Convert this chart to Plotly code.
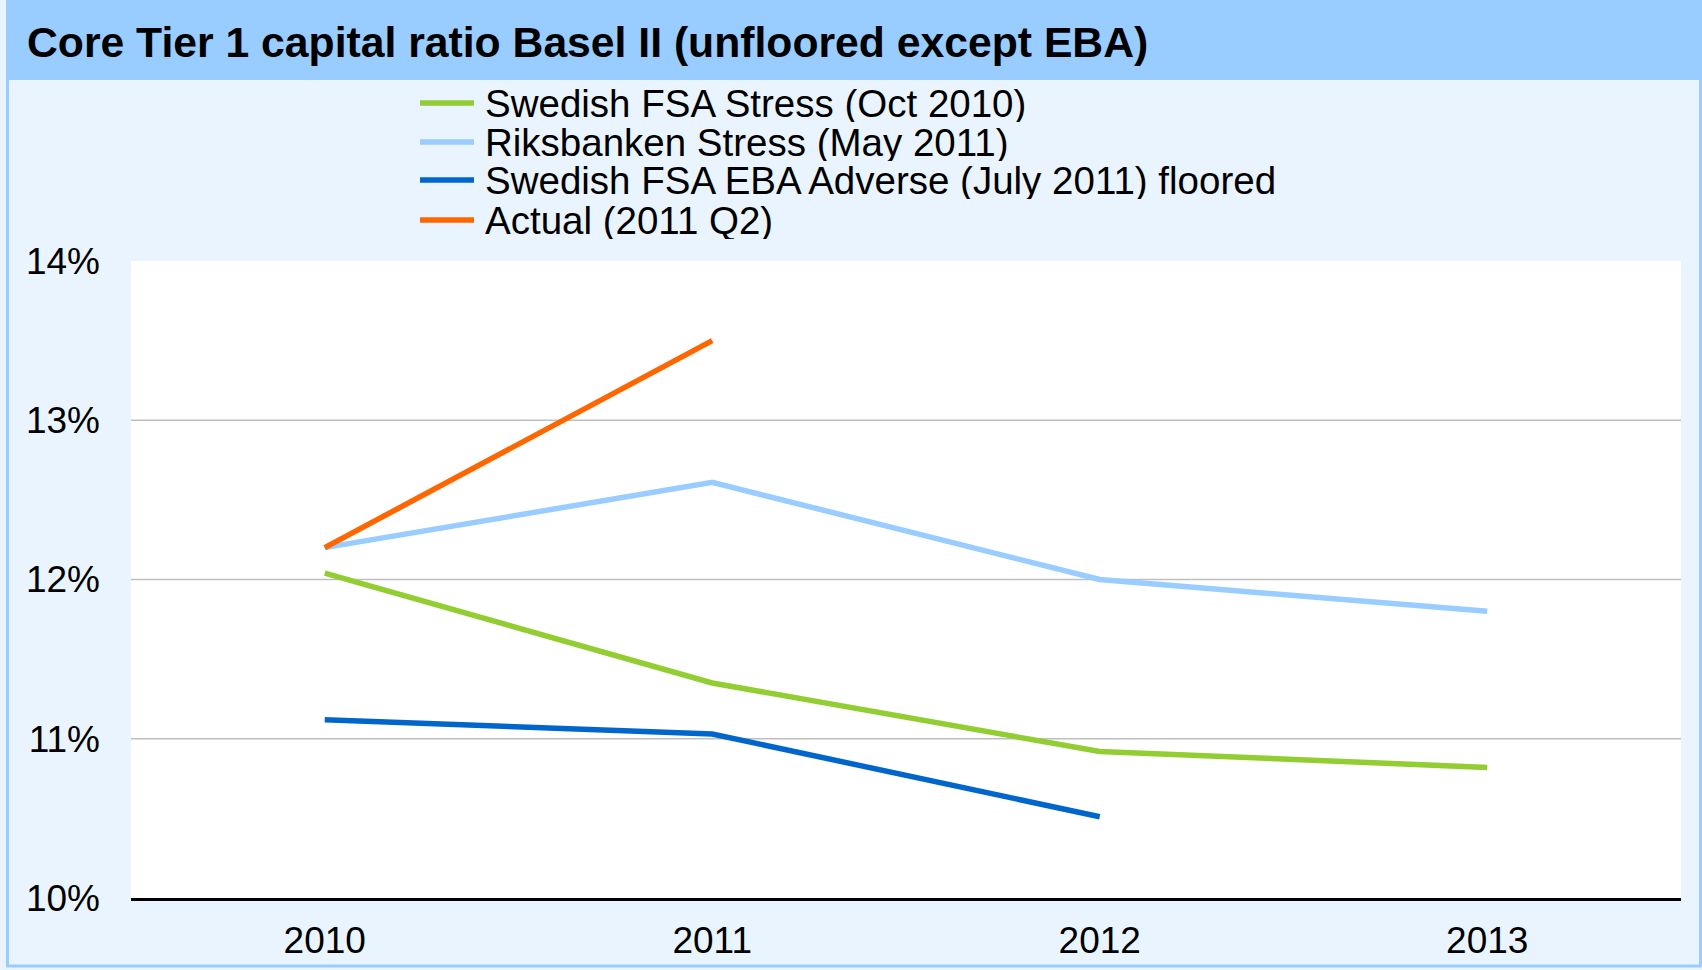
import plotly.graph_objects as go

# ---- data ----
years = ["2010", "2011", "2012", "2013"]
fsa_stress = [12.04, 11.35, 10.92, 10.82]
riksbanken = [12.20, 12.61, 12.00, 11.80]
fsa_eba = [11.12, 11.03, 10.51, None]
actual = [12.20, 13.50, None, None]
series_names = [
    "Swedish FSA Stress (Oct 2010)",
    "Riksbanken Stress (May 2011)",
    "Swedish FSA EBA Adverse (July 2011) floored",
    "Actual (2011 Q2)",
]
series_values = [fsa_stress, riksbanken, fsa_eba, actual]
y_ticks = [10, 11, 12, 13, 14]
y_tick_labels = ["10%", "11%", "12%", "13%", "14%"]
grid_ticks = [11, 12, 13]
title_text = "Core Tier 1 capital ratio Basel II (unfloored except EBA)"

# ---- style ----
colors = ["#92CD32", "#99CCFF", "#0066CC", "#FF6600"]
FONT = "Liberation Sans, Arial, sans-serif"
W, H = 1702, 970
L, R, T, B = 131, 21, 261, 72
PW, PH = W - L - R, H - T - B

def px(x):
    return (x - L) / PW

def py(y):
    return (H - B - y) / PH

fig = go.Figure()
for name, vals, col in zip(series_names, series_values, colors):
    fig.add_trace(go.Scatter(
        x=years, y=vals, name=name, mode="lines",
        line=dict(color=col, width=5.5),
        connectgaps=False, showlegend=False,
    ))

shapes = []
shapes.append(dict(type="rect", xref="paper", yref="paper",
                   x0=px(6), x1=px(1700), y0=py(80), y1=py(0),
                   fillcolor="#99CCFF", line=dict(width=0), layer="below"))
shapes.append(dict(type="rect", xref="paper", yref="paper",
                   x0=px(7.5), x1=px(1700.5), y0=py(966), y1=py(0.5),
                   fillcolor="rgba(0,0,0,0)", line=dict(color="#99CCFF", width=3),
                   layer="below"))
for g in grid_ticks:
    shapes.append(dict(type="line", xref="paper", yref="y", x0=0, x1=1, y0=g, y1=g,
                       line=dict(color="#BFBFBF", width=1.5), layer="below"))

annotations = []
legend_rows = [103, 142, 180, 220]
for name, col, ry in zip(series_names, colors, legend_rows):
    shapes.append(dict(type="line", xref="paper", yref="paper",
                       x0=px(420), x1=px(474), y0=py(ry), y1=py(ry),
                       line=dict(color=col, width=5.5)))
    annotations.append(dict(xref="paper", yref="paper", x=px(483), y=py(ry),
                            xanchor="left", yanchor="middle", text=name,
                            showarrow=False, height=38,
                            font=dict(family=FONT, size=38.5, color="black")))

fig.update_layout(
    width=W, height=H,
    margin=dict(l=L, r=R, t=T, b=B, autoexpand=False),
    paper_bgcolor="#EAF4FE",
    plot_bgcolor="white",
    title=dict(text="<b>" + title_text + "</b>", xref="container", yref="container",
               x=27 / W, xanchor="left", y=1 - 42 / H, yanchor="middle",
               font=dict(family=FONT, size=42.7, color="black")),
    shapes=shapes,
    annotations=annotations,
    showlegend=False,
    xaxis=dict(type="category", range=[-0.5, 3.5], showgrid=False,
               showline=True, linecolor="black", linewidth=3,
               ticks="", ticklabelstandoff=8,
               tickfont=dict(family=FONT, size=37, color="black"),
               zeroline=False, fixedrange=True),
    yaxis=dict(range=[10, 14], tickmode="array", tickvals=y_ticks,
               ticktext=y_tick_labels,
               showgrid=False, zeroline=False, showline=False, ticks="",
               ticklabelstandoff=30,
               tickfont=dict(family=FONT, size=37, color="black"),
               fixedrange=True),
)

fig.write_html("out.html", config={"displayModeBar": False},
               post_script="document.body.style.margin='0';document.body.style.overflow='hidden';")
